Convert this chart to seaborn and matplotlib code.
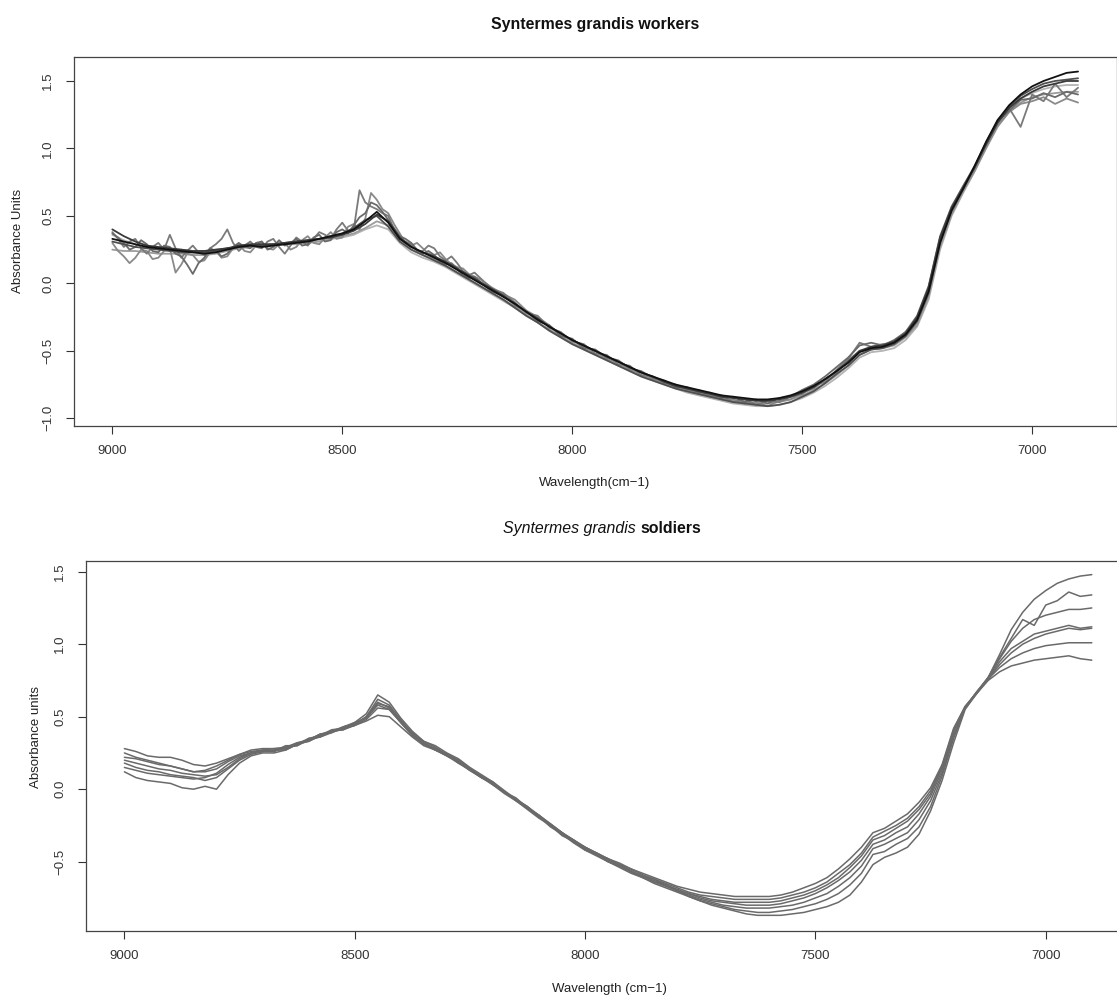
import numpy as np
import pandas as pd
import matplotlib
matplotlib.use("Agg")
import matplotlib.pyplot as plt
import seaborn as sns

# ---------------- data ----------------
wavenumber = list(range(9000, 6899, -25))  # 9000 ... 6900 (85 points)
# the noisiest worker spectra are read at a finer step up to 8200 cm-1
wavenumber_noisy = [9000 - 12.5 * k for k in range(65)] + wavenumber[33:]

# Workers (top panel)
worker_1 = [0.33,0.31,0.29,0.27,0.26,0.25,0.24,0.23,0.22,0.23,
            0.25,0.27,0.28,0.27,0.28,0.29,0.30,0.31,0.33,0.35,
            0.37,0.40,0.46,0.53,0.45,0.33,0.27,0.23,0.19,0.15,
            0.10,0.05,0.00,-0.05,-0.10,-0.15,-0.21,-0.27,-0.32,-0.37,
            -0.42,-0.46,-0.50,-0.54,-0.58,-0.62,-0.66,-0.69,-0.72,-0.75,
            -0.77,-0.79,-0.81,-0.83,-0.84,-0.85,-0.86,-0.86,-0.85,-0.83,
            -0.80,-0.76,-0.71,-0.65,-0.59,-0.51,-0.48,-0.47,-0.44,-0.38,
            -0.27,-0.06,0.30,0.54,0.70,0.87,1.05,1.21,1.32,1.40,
            1.46,1.50,1.53,1.56,1.57]
worker_2 = [0.40,0.35,0.31,0.28,0.27,0.26,0.25,0.24,0.24,0.25,
            0.26,0.28,0.29,0.29,0.29,0.30,0.31,0.32,0.33,0.34,
            0.36,0.39,0.44,0.51,0.46,0.34,0.27,0.23,0.20,0.16,
            0.11,0.06,0.01,-0.04,-0.09,-0.15,-0.21,-0.26,-0.32,-0.37,
            -0.42,-0.46,-0.50,-0.54,-0.58,-0.62,-0.66,-0.69,-0.73,-0.76,
            -0.78,-0.80,-0.82,-0.84,-0.85,-0.86,-0.87,-0.87,-0.86,-0.84,
            -0.81,-0.77,-0.71,-0.65,-0.58,-0.50,-0.47,-0.46,-0.43,-0.37,
            -0.25,-0.03,0.34,0.56,0.71,0.86,1.03,1.19,1.30,1.37,
            1.42,1.46,1.48,1.50,1.50]
worker_3 = [0.38,0.33,0.27,0.31,0.33,0.26,0.22,0.27,0.30,0.25,
            0.36,0.26,0.19,0.24,0.28,0.23,0.21,0.26,0.29,0.33,
            0.40,0.30,0.24,0.28,0.31,0.27,0.26,0.31,0.33,0.27,
            0.22,0.28,0.34,0.31,0.28,0.33,0.38,0.36,0.33,0.40,
            0.45,0.39,0.40,0.69,0.60,0.57,0.55,0.52,0.50,0.40,
            0.33,0.31,0.29,0.24,0.24,0.28,0.26,0.20,0.17,0.20,
            0.15,0.09,0.06,0.08,0.04,
            -0.04,-0.07,-0.14,-0.22,-0.24,-0.33,-0.36,
            -0.43,-0.45,-0.52,-0.53,-0.60,-0.61,-0.68,-0.69,-0.74,-0.75,
            -0.79,-0.79,-0.84,-0.83,-0.88,-0.86,-0.90,-0.87,-0.88,-0.84,
            -0.82,-0.76,-0.73,-0.64,-0.56,-0.44,-0.47,-0.45,-0.44,-0.36,
            -0.27,-0.04,0.33,0.56,0.72,0.86,1.04,1.21,1.30,1.16,
            1.40,1.35,1.48,1.38,1.45]
worker_4 = [0.30,0.24,0.20,0.15,0.19,0.25,0.24,0.18,0.19,0.24,
            0.26,0.08,0.14,0.22,0.21,0.16,0.17,0.23,0.24,0.19,
            0.20,0.26,0.29,0.24,0.23,0.28,0.31,0.26,0.25,0.29,
            0.30,0.25,0.27,0.32,0.35,0.30,0.29,0.34,0.38,0.33,
            0.34,0.42,0.44,0.40,0.48,0.67,0.62,0.55,0.52,0.44,
            0.37,0.30,0.28,0.30,0.26,0.22,0.21,0.23,0.18,0.14,
            0.12,0.11,0.07,0.05,0.03,
            -0.03,-0.08,-0.12,-0.20,-0.25,-0.31,-0.38,
            -0.42,-0.47,-0.50,-0.56,-0.58,-0.64,-0.66,-0.71,-0.73,-0.77,
            -0.78,-0.82,-0.83,-0.86,-0.86,-0.89,-0.88,-0.91,-0.87,-0.86,
            -0.81,-0.78,-0.71,-0.66,-0.57,-0.50,-0.49,-0.48,-0.45,-0.39,
            -0.29,-0.08,0.29,0.52,0.69,0.84,1.01,1.17,1.27,1.33,
            1.35,1.38,1.33,1.37,1.34]
worker_5 = [0.25,0.24,0.24,0.23,0.22,0.22,0.22,0.21,0.21,0.22,
            0.24,0.26,0.27,0.28,0.28,0.29,0.29,0.30,0.31,0.33,
            0.35,0.37,0.41,0.46,0.43,0.33,0.25,0.21,0.18,0.13,
            0.08,0.03,-0.02,-0.07,-0.12,-0.17,-0.23,-0.29,-0.34,-0.39,
            -0.44,-0.48,-0.52,-0.56,-0.60,-0.64,-0.68,-0.71,-0.74,-0.77,
            -0.80,-0.82,-0.84,-0.86,-0.87,-0.88,-0.89,-0.89,-0.88,-0.86,
            -0.83,-0.79,-0.74,-0.68,-0.61,-0.53,-0.49,-0.48,-0.46,-0.40,
            -0.31,-0.10,0.27,0.51,0.68,0.83,1.00,1.16,1.27,1.34,
            1.38,1.40,1.41,1.42,1.42]
worker_6 = [0.36,0.32,0.29,0.27,0.26,0.25,0.25,0.24,0.24,0.25,
            0.26,0.27,0.28,0.29,0.29,0.30,0.30,0.31,0.32,0.33,
            0.34,0.36,0.40,0.43,0.40,0.30,0.23,0.19,0.16,0.12,
            0.07,0.02,-0.03,-0.08,-0.13,-0.18,-0.24,-0.29,-0.35,-0.40,
            -0.45,-0.49,-0.53,-0.57,-0.61,-0.65,-0.69,-0.72,-0.75,-0.78,
            -0.81,-0.83,-0.85,-0.87,-0.89,-0.90,-0.91,-0.91,-0.90,-0.88,
            -0.85,-0.81,-0.76,-0.70,-0.63,-0.55,-0.51,-0.50,-0.48,-0.42,
            -0.32,-0.12,0.25,0.50,0.67,0.83,1.01,1.18,1.30,1.37,
            1.41,1.44,1.46,1.47,1.47]
worker_7 = [0.37,0.34,0.30,0.25,0.27,0.32,0.29,0.24,0.23,0.28,
            0.27,0.22,0.20,0.14,0.07,0.15,0.19,0.26,0.24,0.20,
            0.22,0.27,0.30,0.27,0.26,0.30,0.31,0.25,0.27,0.32,
            0.28,0.30,0.33,0.28,0.29,0.34,0.36,0.31,0.32,0.38,
            0.40,0.37,0.43,0.49,0.52,0.60,0.58,0.53,0.47,0.41,
            0.35,0.33,0.30,0.25,0.22,0.24,0.21,0.16,0.14,0.15,
            0.11,0.06,0.04,0.05,0.01,
            -0.06,-0.09,-0.16,-0.21,-0.28,-0.31,-0.39,
            -0.41,-0.48,-0.49,-0.55,-0.57,-0.63,-0.65,-0.70,-0.72,-0.77,
            -0.77,-0.81,-0.81,-0.85,-0.84,-0.88,-0.86,-0.89,-0.85,-0.84,
            -0.79,-0.75,-0.69,-0.62,-0.55,-0.46,-0.44,-0.46,-0.42,-0.36,
            -0.24,-0.02,0.35,0.57,0.72,0.87,1.04,1.20,1.28,1.36,
            1.37,1.41,1.38,1.42,1.40]
worker_8 = [0.31,0.29,0.27,0.26,0.25,0.24,0.23,0.23,0.23,0.24,
            0.26,0.27,0.28,0.28,0.29,0.30,0.31,0.32,0.33,0.35,
            0.37,0.41,0.47,0.50,0.42,0.31,0.25,0.21,0.17,0.13,
            0.08,0.03,-0.02,-0.07,-0.12,-0.18,-0.24,-0.29,-0.35,-0.40,
            -0.45,-0.49,-0.53,-0.57,-0.61,-0.65,-0.69,-0.72,-0.75,-0.78,
            -0.80,-0.82,-0.84,-0.86,-0.88,-0.89,-0.90,-0.91,-0.90,-0.88,
            -0.84,-0.80,-0.74,-0.67,-0.61,-0.53,-0.49,-0.48,-0.45,-0.39,
            -0.28,-0.07,0.31,0.54,0.70,0.86,1.04,1.20,1.31,1.39,
            1.44,1.48,1.50,1.51,1.52]

# Soldiers (bottom panel)
soldier_1 = [0.20,0.18,0.16,0.14,0.13,0.11,0.10,0.09,0.10,0.15,0.21,0.25,0.27,
             0.28,0.28,0.31,0.35,0.36,0.40,0.43,0.45,0.50,0.60,0.56,0.47,
             0.39,0.33,0.29,0.24,0.20,0.14,0.09,0.04,-0.02,-0.08,-0.13,-0.19,-0.26,-0.31,-0.37,
             -0.42,-0.46,-0.50,-0.54,-0.58,-0.61,-0.65,-0.68,-0.71,-0.74,
             -0.77,-0.80,-0.82,-0.84,-0.86,-0.87,-0.87,-0.87,-0.86,-0.85,
             -0.83,-0.81,-0.78,-0.73,-0.64,-0.52,-0.47,-0.44,-0.40,-0.31,
             -0.15,0.06,0.32,0.55,0.66,0.77,0.93,1.10,1.22,1.31,
             1.37,1.42,1.45,1.47,1.48]
soldier_2 = [0.28,0.26,0.23,0.22,0.22,0.20,0.17,0.16,0.18,0.21,0.24,0.26,0.27,
             0.26,0.30,0.30,0.34,0.38,0.40,0.42,0.46,0.52,0.65,0.60,0.49,
             0.40,0.33,0.30,0.25,0.21,0.15,0.10,0.05,-0.01,-0.07,-0.12,-0.19,-0.25,-0.30,-0.36,
             -0.41,-0.45,-0.50,-0.53,-0.57,-0.61,-0.64,-0.67,-0.70,-0.74,
             -0.77,-0.79,-0.81,-0.83,-0.84,-0.85,-0.85,-0.84,-0.83,-0.81,
             -0.79,-0.76,-0.72,-0.66,-0.58,-0.45,-0.43,-0.38,-0.34,-0.26,
             -0.12,0.09,0.35,0.56,0.67,0.77,0.91,1.04,1.17,1.13,
             1.27,1.30,1.36,1.33,1.34]
soldier_3 = [0.25,0.22,0.20,0.18,0.16,0.14,0.12,0.13,0.16,0.20,0.24,0.27,0.28,
             0.28,0.29,0.32,0.33,0.37,0.41,0.42,0.44,0.50,0.62,0.58,0.48,
             0.38,0.32,0.28,0.24,0.20,0.14,0.09,0.05,-0.02,-0.06,-0.13,-0.18,-0.25,-0.31,-0.35,
             -0.41,-0.44,-0.49,-0.52,-0.57,-0.60,-0.63,-0.66,-0.70,-0.73,
             -0.76,-0.78,-0.80,-0.81,-0.82,-0.82,-0.82,-0.81,-0.80,-0.78,
             -0.75,-0.72,-0.67,-0.61,-0.53,-0.41,-0.38,-0.34,-0.30,-0.21,
             -0.08,0.11,0.36,0.56,0.67,0.77,0.90,1.02,1.11,1.17,
             1.20,1.22,1.24,1.24,1.25]
soldier_4 = [0.22,0.21,0.19,0.17,0.16,0.14,0.12,0.12,0.14,0.19,0.23,0.25,0.26,
             0.27,0.27,0.31,0.34,0.38,0.39,0.43,0.46,0.49,0.59,0.57,0.46,
             0.37,0.31,0.28,0.23,0.19,0.13,0.08,0.03,-0.03,-0.08,-0.14,-0.20,-0.25,-0.32,-0.36,
             -0.42,-0.45,-0.50,-0.53,-0.57,-0.60,-0.64,-0.66,-0.70,-0.72,
             -0.75,-0.77,-0.78,-0.79,-0.80,-0.80,-0.80,-0.79,-0.77,-0.75,
             -0.72,-0.68,-0.63,-0.57,-0.49,-0.38,-0.35,-0.30,-0.26,-0.17,
             -0.05,0.13,0.38,0.56,0.66,0.76,0.88,0.97,1.02,1.07,
             1.09,1.11,1.13,1.11,1.12]
soldier_5 = [0.15,0.13,0.11,0.10,0.09,0.08,0.07,0.08,0.11,0.17,0.22,0.25,0.26,
             0.26,0.29,0.30,0.35,0.37,0.40,0.41,0.45,0.49,0.58,0.55,0.46,
             0.38,0.31,0.27,0.24,0.18,0.14,0.08,0.04,-0.02,-0.07,-0.13,-0.19,-0.24,-0.30,-0.36,
             -0.40,-0.45,-0.48,-0.53,-0.56,-0.60,-0.62,-0.66,-0.69,-0.72,
             -0.74,-0.76,-0.77,-0.78,-0.78,-0.78,-0.78,-0.77,-0.75,-0.73,
             -0.70,-0.66,-0.61,-0.54,-0.46,-0.35,-0.32,-0.27,-0.22,-0.14,
             -0.03,0.15,0.40,0.57,0.67,0.76,0.86,0.94,1.00,1.04,
             1.07,1.09,1.11,1.10,1.11]
soldier_6 = [0.18,0.15,0.13,0.12,0.10,0.09,0.08,0.06,0.08,0.14,0.20,0.24,0.26,
             0.27,0.28,0.32,0.34,0.36,0.39,0.42,0.44,0.48,0.56,0.55,0.46,
             0.37,0.32,0.27,0.23,0.19,0.13,0.09,0.03,-0.02,-0.07,-0.12,-0.18,-0.24,-0.30,-0.35,
             -0.40,-0.44,-0.48,-0.52,-0.55,-0.59,-0.62,-0.65,-0.68,-0.71,
             -0.73,-0.74,-0.75,-0.76,-0.76,-0.76,-0.76,-0.75,-0.73,-0.71,
             -0.68,-0.64,-0.58,-0.52,-0.44,-0.33,-0.29,-0.25,-0.20,-0.12,
             -0.01,0.16,0.41,0.57,0.66,0.76,0.84,0.90,0.94,0.97,
             0.99,1.00,1.01,1.01,1.01]
soldier_7 = [0.12,0.08,0.06,0.05,0.04,0.01,0.00,0.02,0.00,0.10,0.18,0.23,0.25,
             0.25,0.27,0.31,0.33,0.37,0.40,0.41,0.44,0.47,0.51,0.50,0.43,
             0.36,0.30,0.27,0.23,0.18,0.13,0.08,0.04,-0.02,-0.07,-0.13,-0.18,-0.24,-0.30,-0.35,
             -0.40,-0.44,-0.48,-0.51,-0.55,-0.58,-0.61,-0.64,-0.67,-0.69,
             -0.71,-0.72,-0.73,-0.74,-0.74,-0.74,-0.74,-0.73,-0.71,-0.68,
             -0.65,-0.61,-0.55,-0.48,-0.40,-0.30,-0.27,-0.22,-0.17,-0.09,
             0.01,0.17,0.42,0.57,0.66,0.75,0.81,0.85,0.87,0.89,
             0.90,0.91,0.92,0.90,0.89]

x_ticks = [9000, 8500, 8000, 7500, 7000]
y_ticks_top = [-1.0, -0.5, 0.0, 0.5, 1.0, 1.5]
y_ticks_bottom = [-0.5, 0.0, 0.5, 1.0, 1.5]

# draw order (last on top) and grey shades for the workers
worker_series = {"w6": worker_6, "w5": worker_5, "w4": worker_4, "w3": worker_3,
                 "w7": worker_7, "w8": worker_8, "w2": worker_2, "w1": worker_1}
worker_x = {"w3": wavenumber_noisy, "w4": wavenumber_noisy, "w7": wavenumber_noisy}
worker_colors = {"w6": "#b4b4b4", "w5": "#9c9c9c", "w4": "#8a8a8a", "w3": "#7a7a7a",
                 "w7": "#6a6a6a", "w8": "#505050", "w2": "#3a3a3a", "w1": "#111111"}
soldier_series = {"s1": soldier_1, "s2": soldier_2, "s3": soldier_3, "s4": soldier_4,
                  "s5": soldier_5, "s6": soldier_6, "s7": soldier_7}

def long_frame(series, xmap=None):
    rows = []
    xmap = xmap or {}
    for name, vals in series.items():
        xs = xmap.get(name, wavenumber)
        for w, v in zip(xs, vals):
            rows.append((name, w, v))
    return pd.DataFrame(rows, columns=["sample", "wavenumber", "absorbance"])

df_w = long_frame(worker_series, worker_x)
df_s = long_frame(soldier_series)

# ---------------- style ----------------
sns.set_style("white")
plt.rcParams["font.family"] = ["Liberation Sans", "DejaVu Sans"]
plt.rcParams["axes.unicode_minus"] = True

W, H = 1117, 997
fig = plt.figure(figsize=(W / 100, H / 100), dpi=100)
fig.patch.set_facecolor("white")

ax1 = fig.add_axes([73.7 / W, 1 - 426 / H, (1116.7 - 73.7) / W, (426 - 56.7) / H])
ax2 = fig.add_axes([85.7 / W, 1 - 930.7 / H, (1130.5 - 85.7) / W, (930.7 - 560.7) / H])

sns.lineplot(data=df_w, x="wavenumber", y="absorbance", hue="sample",
             hue_order=list(worker_series.keys()), palette=worker_colors,
             estimator=None, sort=False, legend=False, linewidth=1.3, ax=ax1)
sns.lineplot(data=df_s, x="wavenumber", y="absorbance", hue="sample",
             palette=["#6a6a6a"] * len(soldier_series),
             estimator=None, sort=False, legend=False, linewidth=1.1, ax=ax2)

ax1.set_xlim(9084, 6816)
ax1.set_ylim(-1.057, 1.68)
ax2.set_xlim(9084, 6816)
ax2.set_ylim(-0.976, 1.576)

for ax, yt in ((ax1, y_ticks_top), (ax2, y_ticks_bottom)):
    ax.set_xticks(x_ticks)
    ax.set_xticklabels([str(t) for t in x_ticks])
    ax.set_yticks(yt)
    ax.set_yticklabels([f"{t:.1f}".replace("-", "\u2212") for t in yt],
                       rotation=90, va="center")
    ax.set_xlabel("")
    ax.set_ylabel("")
    ax.tick_params(axis="both", direction="out", length=5.5, width=0.8,
                   color="#333333", labelcolor="#333333", labelsize=9.5, pad=8.5,
                   bottom=True, left=True)
    for sp in ax.spines.values():
        sp.set_visible(True)
        sp.set_color("#444444")
        sp.set_linewidth(0.9)
    ax.set_facecolor("white")

# titles and axis labels
fig.text(595 / W, 1 - 25 / H, "Syntermes grandis workers", ha="center", va="center",
         fontsize=11.4, fontweight="bold", color="#111111")
fig.text(636 / W, 1 - 528.5 / H, "Syntermes grandis", ha="right", va="center",
         fontsize=11.4, fontstyle="italic", color="#111111")
fig.text(640 / W, 1 - 528.5 / H, "soldiers", ha="left", va="center",
         fontsize=11.4, fontweight="bold", color="#111111")

fig.text(595 / W, 1 - 483 / H, "Wavelength(cm\u22121)", ha="center", va="center",
         fontsize=9.5, color="#222222")
fig.text(609 / W, 1 - 989 / H, "Wavelength (cm\u22121)", ha="center", va="center",
         fontsize=9.5, color="#222222")
fig.text(18 / W, 1 - 241 / H, "Absorbance Units", ha="center", va="center",
         rotation=90, fontsize=9.5, color="#222222")
fig.text(36 / W, 1 - 737 / H, "Absorbance units", ha="center", va="center",
         rotation=90, fontsize=9.5, color="#222222")

fig.savefig("out.png", dpi=100, facecolor="white")
